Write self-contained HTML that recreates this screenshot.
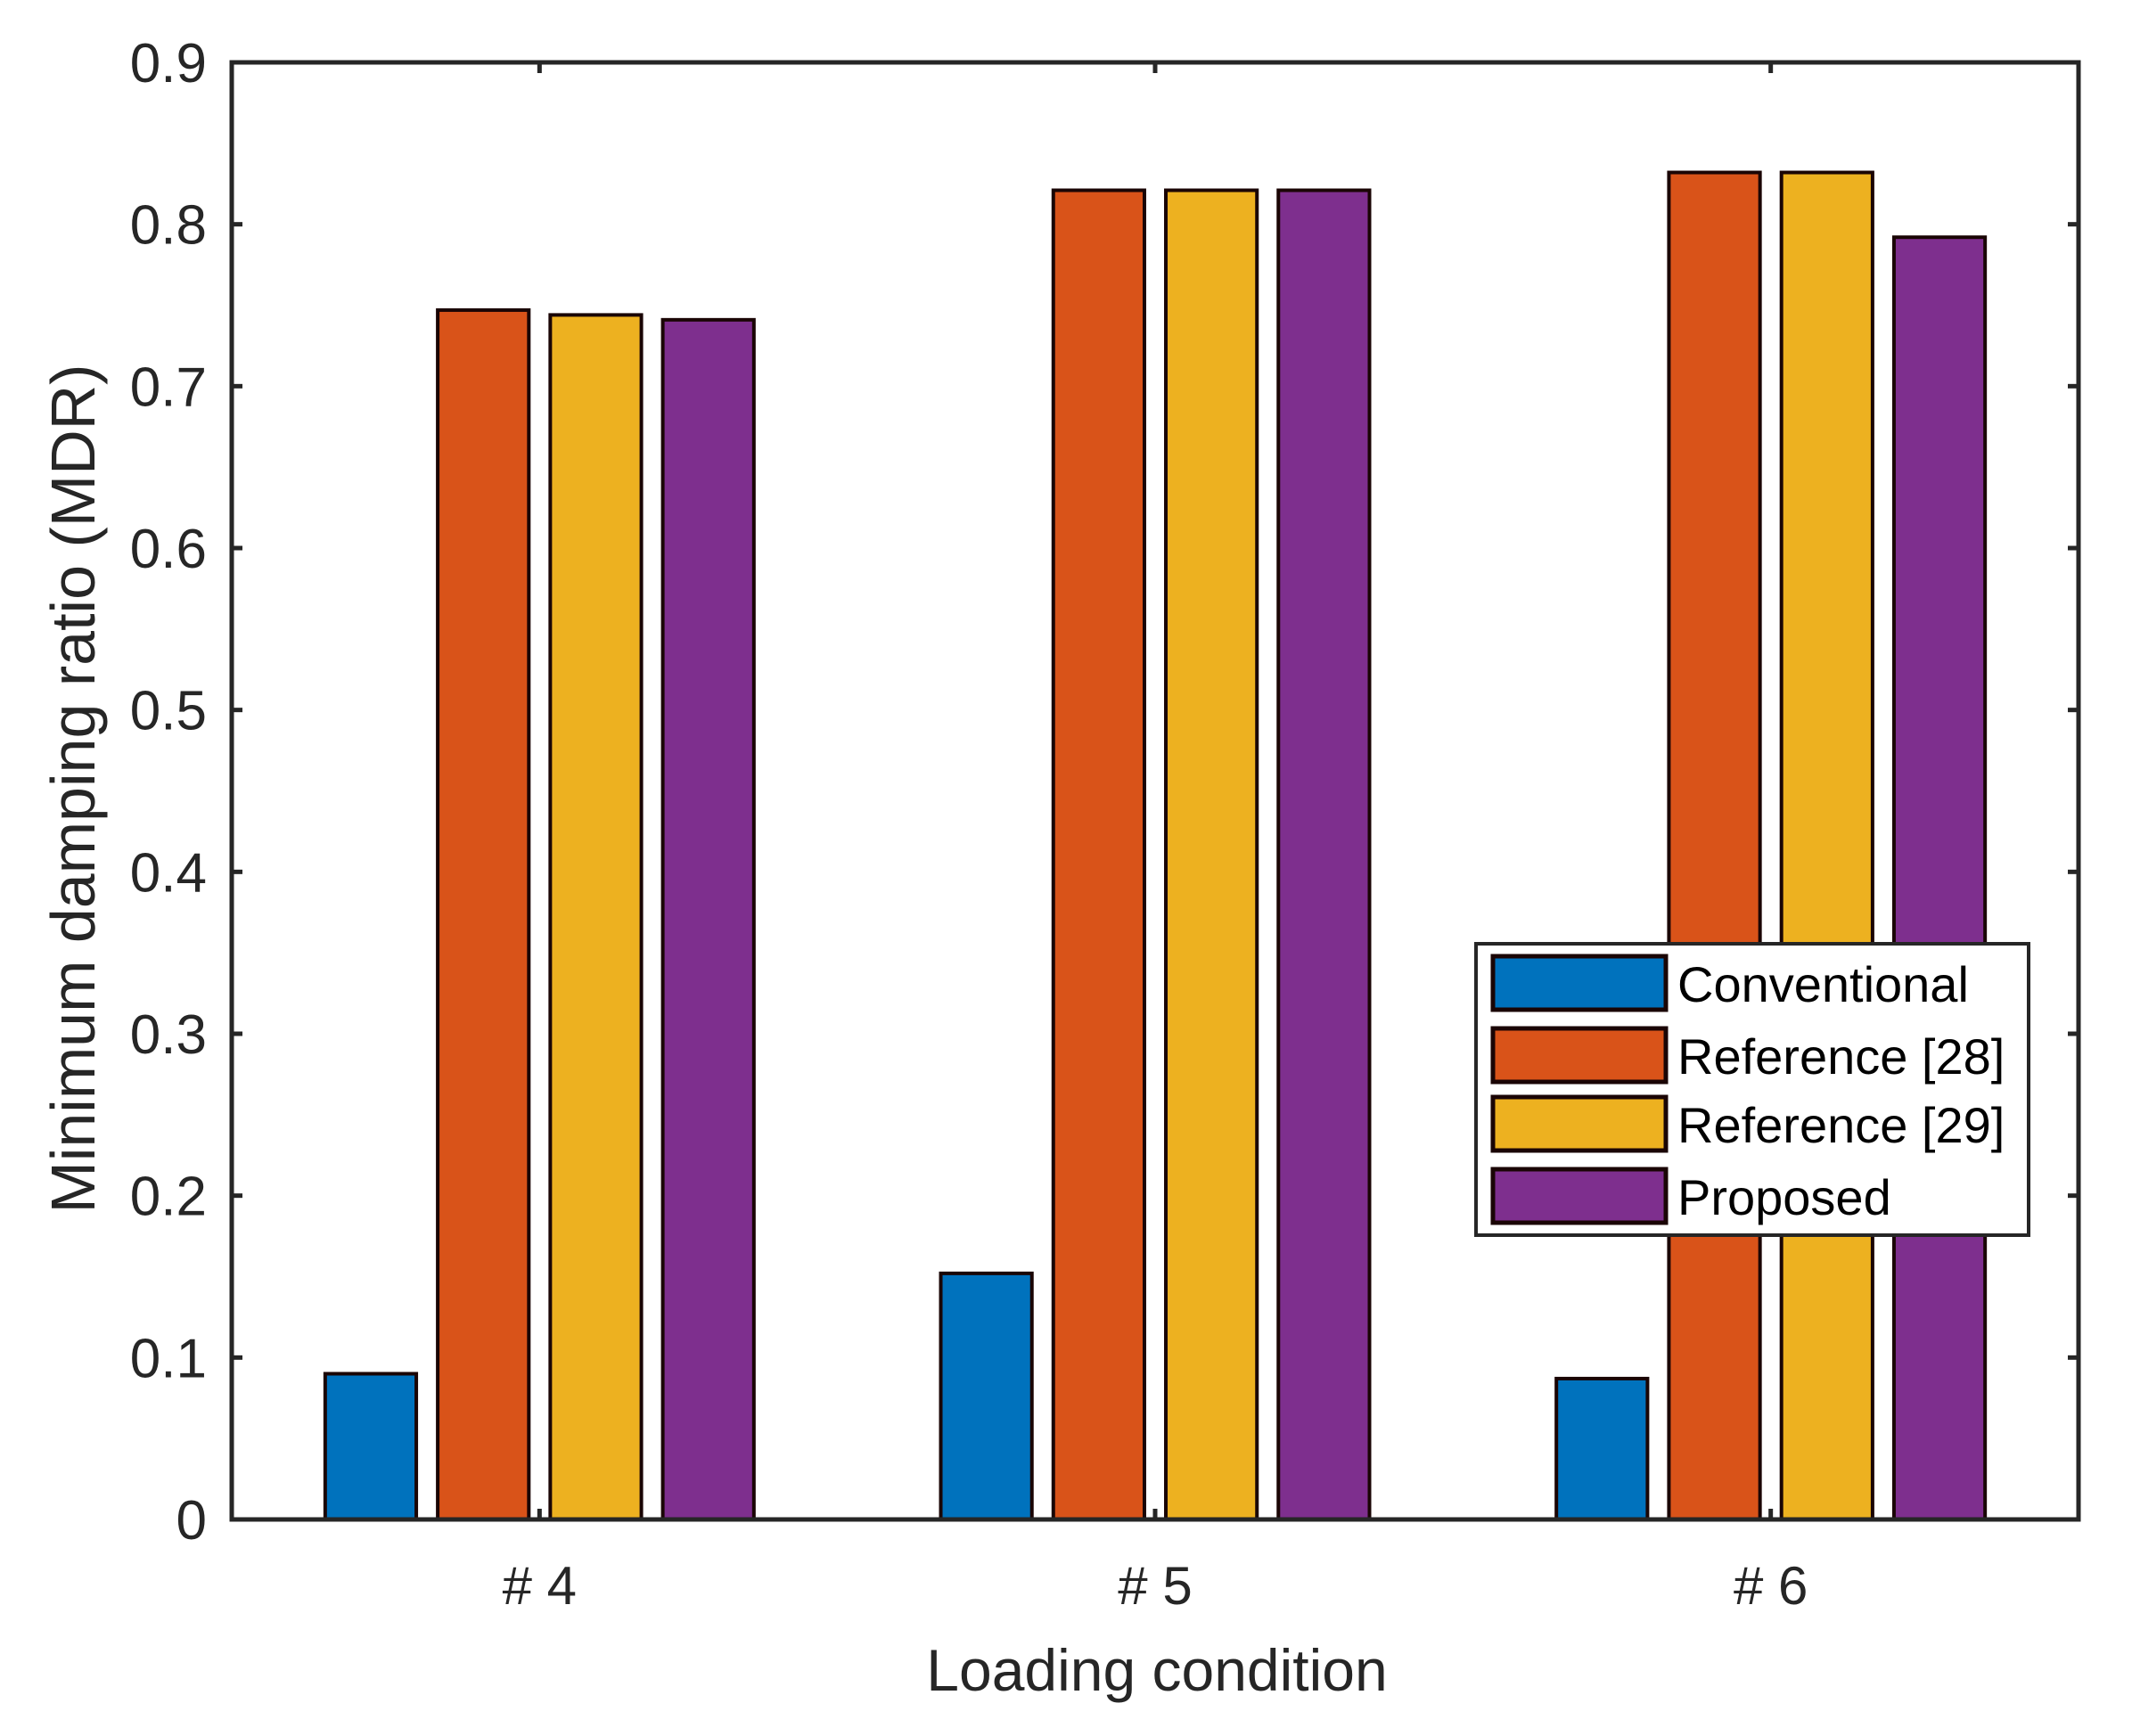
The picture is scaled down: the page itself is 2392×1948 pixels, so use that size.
<!DOCTYPE html>
<html><head><meta charset="utf-8"><style>
html,body{margin:0;padding:0;background:#fff;}
svg{display:block;font-family:"Liberation Sans",Arial,sans-serif;}
</style></head><body>
<svg id="chart" width="2392" height="1948" viewBox="0 0 2392 1948" xmlns="http://www.w3.org/2000/svg"></svg>
<script>
const categories = ["# 4", "# 5", "# 6"];
const seriesNames = ["Conventional", "Reference [28]", "Reference [29]", "Proposed"];
const conventional = [0.090, 0.152, 0.087];
const reference28 = [0.747, 0.821, 0.832];
const reference29 = [0.744, 0.821, 0.832];
const proposed = [0.741, 0.821, 0.792];
const yTicks = [0, 0.1, 0.2, 0.3, 0.4, 0.5, 0.6, 0.7, 0.8, 0.9];
const yTickLabels = ["0", "0.1", "0.2", "0.3", "0.4", "0.5", "0.6", "0.7", "0.8", "0.9"];

const colors = ["#0072BD", "#D95319", "#EDB120", "#7E2F8E"];
const series = [conventional, reference28, reference29, proposed];
const L = 260, R = 2332, T = 70, B = 1705;
const yMax = 0.9;
const y = v => B - (v / yMax) * (B - T);
const groupW = (R - L) / categories.length;
const x = i => L + groupW * (i + 0.5);
const pitch = groupW * 0.1828, barW = groupW * 0.148;
const NS = "http://www.w3.org/2000/svg";
const svg = document.getElementById("chart");
function mk(tag, attrs, parent) {
  const e = document.createElementNS(NS, tag);
  for (const k in attrs) e.setAttribute(k, attrs[k]);
  (parent || svg).appendChild(e);
  return e;
}
const barsG = mk("g", {});


series.forEach((vals, s) => {
  vals.forEach((v, i) => {
    const cx = x(i) + (s - 1.5) * pitch;
    const r = mk("rect", {x: cx - barW / 2, y: y(v), width: barW, height: B - y(v), fill: colors[s], stroke: "#1a0505", "stroke-width": 4}, barsG);
    
    
  });
});
const ax = mk("rect", {x: L, y: T, width: R - L, height: B - T, fill: "none", stroke: "#262626", "stroke-width": 5});


yTicks.forEach((t, k) => {
  const yy = y(t);
  mk("line", {x1: L, x2: L + 12, y1: yy, y2: yy, stroke: "#262626", "stroke-width": 5});
  mk("line", {x1: R, x2: R - 12, y1: yy, y2: yy, stroke: "#262626", "stroke-width": 5});
  const tx = mk("text", {x: 232, y: yy + 22, "text-anchor": "end", "font-size": 62, fill: "#262626"});
  tx.textContent = yTickLabels[k];
  
  
});
categories.forEach((c, i) => {
  const xx = x(i);
  mk("line", {x1: xx, x2: xx, y1: B, y2: B - 12, stroke: "#262626", "stroke-width": 5});
  mk("line", {x1: xx, x2: xx, y1: T, y2: T + 12, stroke: "#262626", "stroke-width": 5});
  const tx = mk("text", {x: xx, y: 1800, "text-anchor": "middle", "font-size": 60, fill: "#262626"});
  tx.textContent = c;
  
  
});
const xl = mk("text", {x: 1298, y: 1897, "text-anchor": "middle", "font-size": 66, fill: "#262626"});
xl.textContent = "Loading condition";


const yl = mk("text", {x: 0, y: 0, "text-anchor": "middle", "font-size": 70, fill: "#262626", transform: "translate(106,885) rotate(-90)"});
yl.textContent = "Minimum damping ratio (MDR)";


const lg = mk("g", {});


mk("rect", {x: 1656, y: 1059, width: 620, height: 327, fill: "#fff", stroke: "#262626", "stroke-width": 4}, lg);
const rowY = [1073, 1154, 1231, 1312];
seriesNames.forEach((n, s) => {
  const sw = mk("rect", {x: 1675, y: rowY[s], width: 194, height: 60, fill: colors[s], stroke: "#1a0505", "stroke-width": 5}, lg);
  
  
  const t = mk("text", {x: 1882, y: rowY[s] + 51, "font-size": 56, fill: "#000"}, lg);
  t.textContent = n;
  
  
});
</script>
</body></html>
